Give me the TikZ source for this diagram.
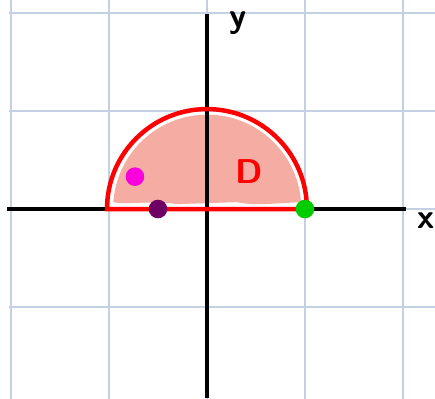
\documentclass[tikz,border=0pt]{standalone}
\usepackage{tikz}
\usetikzlibrary{calc}
\definecolor{rejilla}{RGB}{196,208,228}
\definecolor{salmon}{RGB}{245,172,162}
\definecolor{violeta}{RGB}{110,0,100}
\definecolor{fucsia}{RGB}{250,0,220}
\tikzset{punto/.style={circle,inner sep=0pt,minimum size=0.19cm}}

\begin{document}
\begin{tikzpicture}[line width=1.15pt]
  \useasboundingbox (-2.112,-1.929) rectangle (2.327,2.133);
  % cuadricula
  \begin{scope}
    \clip (-2.112,-1.929) rectangle (2.327,2.133);
    \draw[rejilla,line width=0.35pt] (-2.02,-2.5) grid (2.6,2.5);
  \end{scope}
  % region D
  \coordinate (O) at (0,0); \coordinate (A) at (-1.02,0); \coordinate (B) at (1.02,0);
  \fill[salmon] (-0.96,0.07) .. controls (-0.8,0.04) and (-0.6,0.09) .. (-0.3,0.05)
    -- (0.3,0.07) .. controls (0.5,0.03) and (0.7,0.06) .. (0.96,0.07)
    arc (4:176:0.96) -- cycle;
  % ejes
  \draw (-2.04,0) -- (2.03,0);
  \draw (0,-1.93) -- (0,1.99);
  \node at (2.24,-0.12) {\sffamily\bfseries x};
  \node at (0.32,1.9) {\sffamily\bfseries y};
  % semicirculo
  \draw[red,line width=1.3pt] (A) -- (B) arc (0:180:1.02) -- cycle;
  \node[red] at (0.43,0.38) {\sffamily\bfseries D};
  % puntos
  \node[punto,fill=fucsia] (P) at (-0.735,0.33) {};
  \node[punto,fill=violeta] (Q) at (-0.5,0) {};
  \node[punto,fill=green!80!black] (R) at (1.0,0) {};
\end{tikzpicture}
\end{document}
